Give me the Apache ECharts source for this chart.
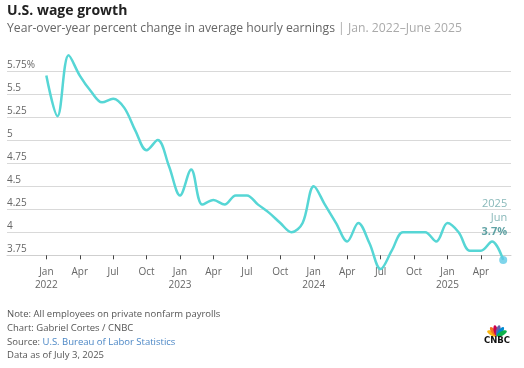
<!DOCTYPE html>
<html><head><meta charset="utf-8">
<script src="https://cdn.jsdelivr.net/npm/echarts@6/dist/echarts.min.js"></script>
<style>html,body{margin:0;padding:0;background:#fff}#c{width:524px;height:368px}</style>
</head><body><div id="c"></div>
<script>
// Month index 0 = Jan 2022 ... 41 = Jun 2025
const monthNames = ['Jan','Feb','Mar','Apr','May','Jun','Jul','Aug','Sep','Oct','Nov','Dec'];
const startYear = 2022;
const wageGrowth = [
  5.7, 5.26, 5.92, 5.7, 5.53, 5.41, 5.45, 5.35, 5.1, 4.89, 5.0, 4.72,
  4.4, 4.68, 4.3, 4.35, 4.3, 4.4, 4.4, 4.3, 4.21, 4.1, 4.0, 4.1,
  4.5, 4.3, 4.1, 3.9, 4.1, 3.88, 3.6, 3.8, 4.0, 4.0, 4.0, 3.9,
  4.1, 4.0, 3.8, 3.8, 3.9, 3.7
];
const yTicks = [3.75, 4, 4.25, 4.5, 4.75, 5, 5.25, 5.5, 5.75];
const xTickMonths = [0,3,6,9,12,15,18,21,24,27,30,33,36,39];
const lastIdx = wageGrowth.length - 1;

const FONT = '"Open Sans", sans-serif';
const chart = echarts.init(document.getElementById('c'), null, {renderer: 'canvas'});

// CNBC peacock logo
const petalColors = ['#fcb711','#f37021','#cc004c','#6460aa','#0089d0','#0db14b'];
const logo = [];
const bx = 497, by = 336;
petalColors.forEach((col, i) => {
  const a = (-62.5 + i * 25) * Math.PI / 180;
  logo.push({
    type: 'ellipse',
    x: bx + 5.5 * Math.sin(a), y: by - 5.5 * Math.cos(a),
    rotation: -a,
    shape: {cx: 0, cy: 0, rx: 2.2, ry: 5.5},
    style: {fill: col}
  });
});
logo.push({type: 'text', x: 497, y: 341, style: {text: 'CNBC', font: 'bold 8.5px "DejaVu Sans", sans-serif', fill: '#111', align: 'center', verticalAlign: 'middle'}});

const foot = (t, y) => ({type: 'text', left: 7, top: y, style: {text: t, font: '9.5px ' + FONT, fill: '#555'}});

chart.setOption({
  animation: false,
  grid: {left: 7, right: 13, top: 71, bottom: 112.7, containLabel: false},
  xAxis: {
    type: 'value', min: -3.53, max: 41.7,
    splitLine: {show: false},
    axisLine: {show: true, lineStyle: {color: '#cfcfcf', width: 1}},
    axisTick: {show: true, customValues: xTickMonths, length: 4, lineStyle: {color: '#444'}},
    axisLabel: {
      customValues: xTickMonths, margin: 10, color: '#666', fontFamily: FONT, fontSize: 10, lineHeight: 13,
      formatter: v => {
        const m = Math.round(v) % 12;
        const y = startYear + Math.floor(Math.round(v) / 12);
        return m === 0 ? monthNames[m] + '\n' + y : monthNames[m];
      }
    }
  },
  yAxis: {
    type: 'value', min: 3.75, max: 5.75, interval: 0.25,
    axisLine: {show: false}, axisTick: {show: false},
    splitLine: {show: true, lineStyle: {color: '#d9d9d9', width: 1}},
    axisLabel: {
      inside: true, margin: 0, verticalAlign: 'bottom', padding: [0, 0, 1, 0],
      color: '#666', fontFamily: FONT, fontSize: 10,
      formatter: v => (v === 5.75 ? '5.75%' : String(v))
    }
  },
  series: [
    {
      type: 'line', clip: false, smooth: 0.35, showSymbol: false,
      data: wageGrowth.map((v, i) => [i, v]),
      lineStyle: {color: '#56d6d5', width: 2.5},
      z: 3
    },
    {
      type: 'scatter', clip: false,
      data: [[lastIdx, wageGrowth[lastIdx]]],
      symbolSize: 8, itemStyle: {color: '#5fcae6'},
      z: 4,
      label: {
        show: true, position: 'top', distance: 17, align: 'right', offset: [4, 0],
        lineHeight: 14,
        formatter: () => '{y|' + (startYear + Math.floor(lastIdx / 12)) + '}\n{y|' + monthNames[lastIdx % 12] + '}\n{v|' + wageGrowth[lastIdx].toFixed(1) + '%}',
        rich: {
          y: {color: '#6aa6a8', fontFamily: FONT, fontSize: 11, lineHeight: 14, align: 'right'},
          v: {color: '#3a8c8e', fontFamily: FONT, fontSize: 11, fontWeight: 'bold', lineHeight: 14, align: 'right'}
        }
      }
    }
  ],
  graphic: [
    {type: 'text', left: 7, top: 4, style: {text: 'U.S. wage growth', font: 'bold 14px ' + FONT, fill: '#222'}},
    {type: 'text', left: 7, top: 23, style: {
      text: '{a|Year-over-year percent change in average hourly earnings}{b| | Jan. 2022–June 2025}',
      rich: {a: {font: '12.2px ' + FONT, fill: '#666'}, b: {font: '12.2px ' + FONT, fill: '#aaa'}}
    }},
    foot('Note: All employees on private nonfarm payrolls', 309),
    foot('Chart: Gabriel Cortes / CNBC', 323),
    {type: 'text', left: 7, top: 337, style: {
      text: '{a|Source: }{b|U.S. Bureau of Labor Statistics}',
      rich: {a: {font: '9.5px ' + FONT, fill: '#555'}, b: {font: '9.5px ' + FONT, fill: '#4a86c5'}}
    }},
    foot('Data as of July 3, 2025', 350),
    ...logo
  ]
});
</script></body></html>
